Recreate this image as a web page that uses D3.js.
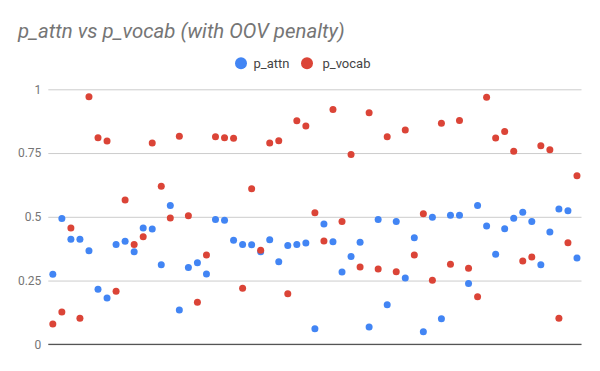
<!DOCTYPE html>
<html>
<head>
<meta charset="utf-8">
<script src="https://cdn.jsdelivr.net/npm/d3@7"></script>
<style>
  html, body { margin: 0; padding: 0; background: #fff; }
  svg { display: block; font-family: Roboto, "Noto Sans", Arial, sans-serif; }
</style>
</head>
<body>
<svg id="chart" width="600" height="371"></svg>
<script>
const title = "p_attn vs p_vocab (with OOV penalty)";
const seriesNames = ["p_attn", "p_vocab"];
const seriesColors = ["#4285F4", "#DB4437"];
const yTicks = [0, 0.25, 0.5, 0.75, 1];
const yTickLabels = ["0", "0.25", "0.5", "0.75", "1"];

const pAttn = [
  0.275, 0.493, 0.412, 0.412, 0.367, 0.216, 0.182, 0.391, 0.404, 0.363,
  0.456, 0.452, 0.312, 0.544, 0.135, 0.301, 0.320, 0.276, 0.489, 0.486,
  0.408, 0.391, 0.390, 0.363, 0.410, 0.324, 0.387, 0.391, 0.397, 0.061,
  0.472, 0.402, 0.284, 0.344, 0.400, 0.068, 0.489, 0.155, 0.482, 0.260,
  0.418, 0.049, 0.498, 0.100, 0.506, 0.506, 0.238, 0.544, 0.464, 0.353,
  0.453, 0.494, 0.518, 0.482, 0.312, 0.440, 0.531, 0.524, 0.338
];
const pVocab = [
  0.080, 0.127, 0.456, 0.102, 0.971, 0.810, 0.797, 0.208, 0.566, 0.391,
  0.422, 0.789, 0.620, 0.495, 0.816, 0.504, 0.165, 0.350, 0.814, 0.810,
  0.808, 0.220, 0.610, 0.369, 0.789, 0.798, 0.198, 0.877, 0.856, 0.516,
  0.405, 0.921, 0.482, 0.744, 0.303, 0.908, 0.295, 0.814, 0.285, 0.840,
  0.350, 0.512, 0.251, 0.867, 0.314, 0.878, 0.298, 0.186, 0.969, 0.809,
  0.835, 0.757, 0.327, 0.342, 0.779, 0.763, 0.102, 0.398, 0.661
];

const svg = d3.select("#chart");
const plotLeft = 48.3, plotRight = 581.5, plotTop = 89.3, plotBottom = 344.3;

const x = d3.scaleLinear().domain([-0.5, pAttn.length - 0.5]).range([plotLeft, plotRight]);
const y = d3.scaleLinear().domain([0, 1]).range([plotBottom, plotTop]);

// Title
svg.append("text")
  .attr("x", 18).attr("y", 38)
  .attr("font-size", 20.4).attr("font-style", "italic")
  .attr("fill", "#757575")
  .text(title);

// Legend
const legendItems = [
  { name: seriesNames[0], color: seriesColors[0], cx: 241, tx: 253.5 },
  { name: seriesNames[1], color: seriesColors[1], cx: 307, tx: 322.5 }
];
legendItems.forEach(d => {
  svg.append("circle").attr("cx", d.cx).attr("cy", 63.3).attr("r", 6).attr("fill", d.color);
  svg.append("text").attr("x", d.tx).attr("y", 67.8)
    .attr("font-size", 13).attr("fill", "#444").text(d.name);
});

// Gridlines
const yAxis = d3.axisLeft(y).tickValues(yTicks)
  .tickSize(-(plotRight - plotLeft))
  .tickFormat((d, i) => yTickLabels[i]);
const gy = svg.append("g").attr("transform", `translate(${plotLeft},0)`).call(yAxis);
gy.select(".domain").remove();
gy.selectAll(".tick line").attr("stroke", "#cccccc").attr("stroke-width", 1);
gy.selectAll(".tick text").attr("x", -7).attr("font-size", 12)
  .attr("fill", "#757575").attr("font-family", "Roboto, sans-serif");

// Baseline
svg.append("line")
  .attr("x1", plotLeft).attr("x2", plotRight)
  .attr("y1", y(0)).attr("y2", y(0))
  .attr("stroke", "#333").attr("stroke-width", 1);

// Points
const series = [pAttn, pVocab];
series.forEach((vals, si) => {
  svg.append("g").selectAll("circle")
    .data(vals)
    .join("circle")
    .attr("cx", (d, i) => x(i))
    .attr("cy", d => y(d))
    .attr("r", 3.5)
    .attr("fill", seriesColors[si]);
});
</script>
</body>
</html>
